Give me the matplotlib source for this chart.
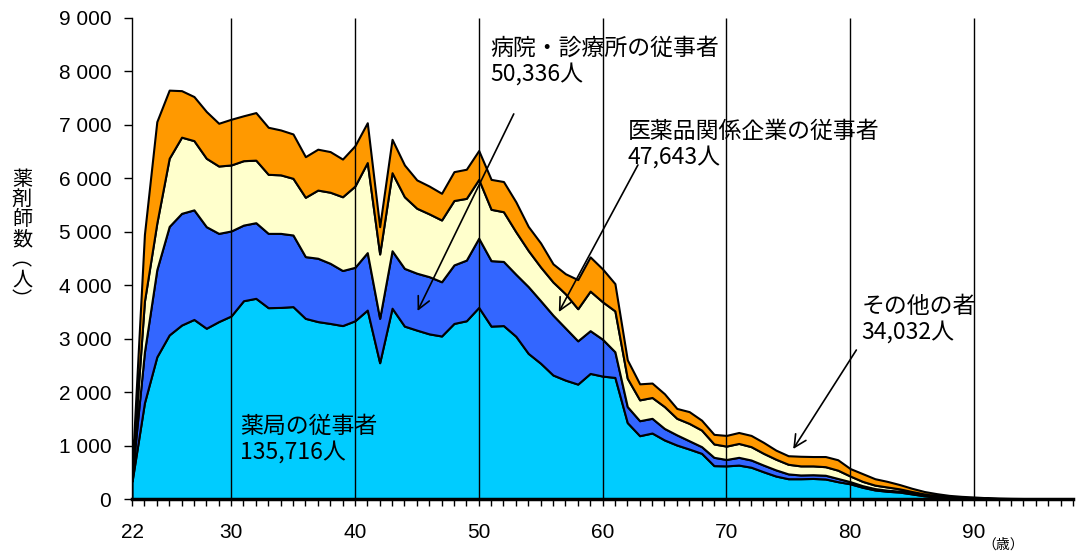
#----------------------------------------------------------------------------------------------------- #
# Modules
#----------------------------------------------------------------------------------------------------- #
import matplotlib
matplotlib.use('Agg')
import matplotlib.pyplot as plt
import numpy as np


#----------------------------------------------------------------------------------------------------- #
# Data (pharmacists by age and workplace)
#----------------------------------------------------------------------------------------------------- #
ages = list(range(22, 99))

pharmacy = [330, 1800, 2660, 3070, 3255, 3360, 3195, 3320, 3425, 3710,
            3755, 3580, 3585, 3600, 3380, 3320, 3285, 3245, 3335, 3535,
            2550, 3570, 3235, 3160, 3090, 3050, 3285, 3335, 3585, 3235,
            3245, 3045, 2725, 2540, 2320, 2225, 2150, 2350, 2300, 2275,
            1430, 1185, 1235, 1105, 1010, 935, 855, 625, 620, 635,
            595, 510, 430, 380, 380, 385, 375, 325, 285, 220,
            170, 145, 130, 95, 60, 38, 22, 14, 10, 6,
            4, 3, 2, 1, 1, 0, 0]

hospital = [90, 950, 1630, 2030, 2090, 2050, 1900, 1650, 1590, 1415,
            1415, 1390, 1385, 1340, 1155, 1185, 1125, 1030, 1000, 1075,
            830, 1075, 1080, 1065, 1070, 1015, 1095, 1135, 1295, 1225,
            1200, 1160, 1250, 1170, 1120, 975, 810, 800, 690, 480,
            300, 280, 275, 215, 190, 155, 125, 155, 120, 145,
            135, 125, 115, 90, 70, 70, 70, 60, 40, 30,
            25, 20, 18, 15, 12, 8, 6, 4, 3, 2,
            1, 1, 1, 1, 0, 1, 0]

industry = [60, 950, 870, 1275, 1425, 1295, 1280, 1260, 1235, 1205,
            1170, 1105, 1095, 1060, 1110, 1275, 1330, 1380, 1520, 1685,
            1205, 1460, 1340, 1215, 1175, 1155, 1205, 1155, 1100, 960,
            930, 795, 675, 630, 620, 640, 600, 740, 700, 765,
            530, 390, 390, 410, 310, 325, 310, 250, 250, 260,
            250, 220, 200, 180, 170, 165, 160, 155, 105, 80,
            65, 60, 42, 30, 23, 16, 12, 9, 7, 5,
            4, 2, 1, 1, 1, 0, 1]

other = [60, 1250, 1900, 1275, 870, 825, 875, 800, 855, 840,
         890, 880, 840, 830, 760, 765, 760, 705, 755, 745,
         510, 625, 595, 530, 520, 500, 540, 545, 540, 560,
         565, 560, 450, 450, 340, 375, 545, 640, 615, 510,
         345, 300, 270, 240, 185, 220, 185, 180, 200, 205,
         210, 205, 170, 160, 180, 175, 190, 195, 140, 145,
         120, 105, 80, 60, 45, 38, 28, 23, 18, 12,
         9, 6, 5, 3, 2, 2, 1]

series_labels = ['薬局の従事者\n135,716人', '病院・診療所の従事者\n50,336人',
                 '医薬品関係企業の従事者\n47,643人', 'その他の者\n34,032人']
colors = ['#00CCFF', '#3366FF', '#FFFFCC', '#FF9900']

y_ticks = [0, 1000, 2000, 3000, 4000, 5000, 6000, 7000, 8000, 9000]
y_tick_labels = ['0', '1 000', '2 000', '3 000', '4 000', '5 000',
                 '6 000', '7 000', '8 000', '9 000']
x_ticks = [22, 30, 40, 50, 60, 70, 80, 90]
decade_lines = [30, 40, 50, 60, 70, 80, 90]


#----------------------------------------------------------------------------------------------------- #
# Plot
#----------------------------------------------------------------------------------------------------- #
plt.rcParams['font.family'] = ['Liberation Sans', 'Noto Sans CJK JP']
jp_font = ['Noto Sans CJK JP', 'DejaVu Sans']

fig = plt.figure(figsize=(10.77, 5.53), dpi=100)
ax = fig.add_axes([0.1226, 0.0976, 0.8737, 0.8699])

ax.stackplot(ages, pharmacy, hospital, industry, other, colors=colors,
             edgecolor='black', linewidth=1.5)

ax.vlines(decade_lines, 0, 9000, colors='black', linewidth=1, zorder=3)

ax.set_xlim(22, 98)
ax.set_ylim(0, 9000)

ax.set_yticks(y_ticks)
ax.set_yticklabels(y_tick_labels, fontsize=15)
ax.set_xticks(x_ticks)
ax.set_xticklabels([str(t) for t in x_ticks], fontsize=15)
ax.set_xticks(ages, minor=True)
ax.tick_params(axis='x', which='both', direction='out', length=5, width=1, pad=12)
ax.tick_params(axis='y', direction='out', length=6, width=1, pad=9)

ax.spines['top'].set_visible(False)
ax.spines['right'].set_visible(False)
ax.spines['bottom'].set_linewidth(2.5)
ax.spines['left'].set_linewidth(1)

# Vertical y label, one character per line
fig.text(22 / 1077, 1 - 240 / 553, '薬\n剤\n師\n数\n︵\n人\n︶', ha='center',
         va='center', fontsize=14.5, family=jp_font, linespacing=0.95)

fig.text(1003 / 1077, 1 - 545 / 553, '（歳）', ha='center', va='center',
         fontsize=10, family=jp_font)

# Labels and arrows
text_pos = [(30.74, 1123), (50.96, 8187), (62.05, 6643), (80.9, 3368)]
for label, (tx, ty) in zip(series_labels, text_pos):
    ax.text(tx, ty, label, ha='left', va='center', fontsize=16.5,
            family=jp_font, linespacing=1.15, zorder=5)

arrows = [((45.06, 3518), (52.83, 7205)),
          ((56.47, 3499), (62.86, 6250)),
          ((75.4, 936), (80.5, 2788))]
for tip, start in arrows:
    ax.annotate('', xy=tip, xytext=start,
                arrowprops=dict(arrowstyle='->', color='black', lw=1.2,
                                mutation_scale=22, shrinkA=0, shrinkB=0),
                zorder=5)

plt.savefig('out.png', dpi=100)
